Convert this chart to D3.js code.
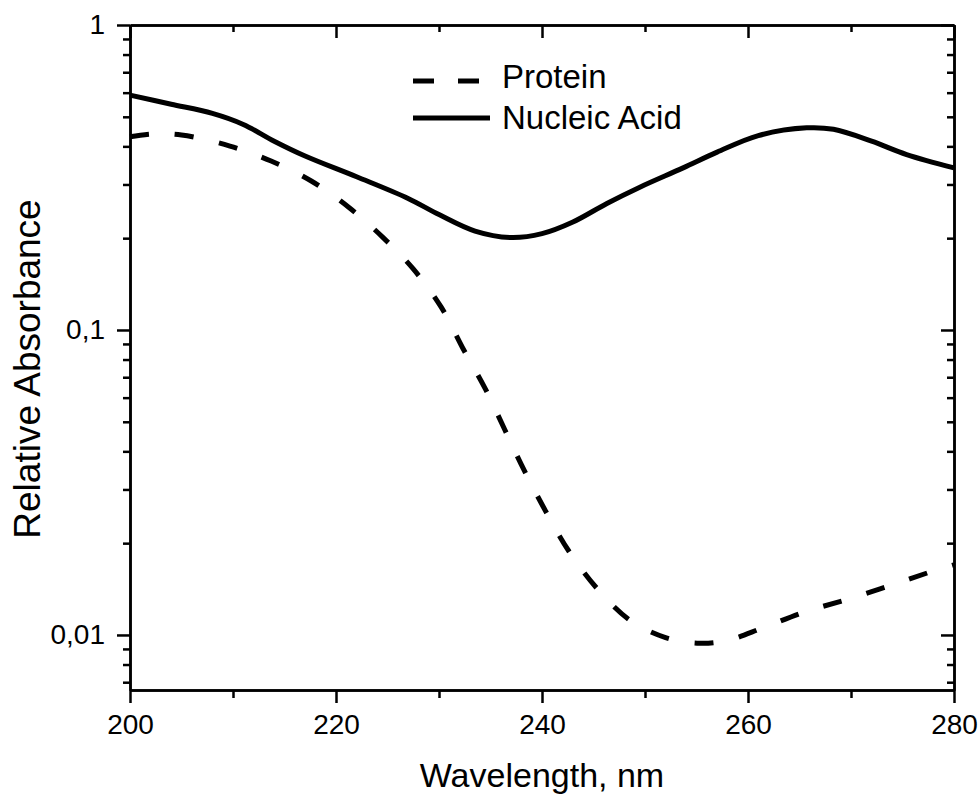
<!DOCTYPE html>
<html>
<head>
<meta charset="utf-8">
<script src="https://cdn.jsdelivr.net/npm/d3@7"></script>
<style>
  body { margin: 0; background: #fff; }
  text { font-family: "Liberation Sans", Arial, sans-serif; fill: #000; }
</style>
</head>
<body>
<svg id="chart" width="978" height="795"></svg>
<script>
// Data
const proteinWl  = [200, 202, 205, 209.7, 213.7, 217.6, 221.2, 224.5, 227.5, 230.2, 232.3, 234.5, 236.4, 238.3, 240.4, 242.6, 245.3, 248.5, 252, 255.3, 258, 261.4, 265.5, 269.7, 274, 278.3, 280];
const proteinAbs = [0.430, 0.439, 0.436, 0.401, 0.358, 0.308, 0.253, 0.202, 0.1585, 0.119, 0.0873, 0.0641, 0.047, 0.0345, 0.0253, 0.01885, 0.01426, 0.0112, 0.0098, 0.0094, 0.0096, 0.01054, 0.0119, 0.0131, 0.01459, 0.01634, 0.01698];

const nucleicWl  = [200, 204, 208, 211, 214, 217, 222, 227, 230, 233.5, 237, 240, 243, 246.3, 249.5, 253.7, 257, 261, 265.7, 268.3, 272, 275.4, 280];
const nucleicAbs = [0.589, 0.550, 0.513, 0.472, 0.416, 0.372, 0.318, 0.270, 0.239, 0.211, 0.201, 0.207, 0.226, 0.260, 0.294, 0.340, 0.383, 0.434, 0.460, 0.455, 0.416, 0.376, 0.340];

const seriesNames = ['Protein', 'Nucleic Acid'];
const xMajorTicks = [200, 220, 240, 260, 280];
const xMinorTicks = [210, 230, 250, 270];
const yMajorTicks = [1, 0.1, 0.01];
const yMajorLabels = ['1', '0,1', '0,01'];

const margin = { top: 25, right: 24, bottom: 105, left: 130 };
const width = 978 - margin.left - margin.right;
const height = 795 - margin.top - margin.bottom;

const svg = d3.select('#chart');
const g = svg.append('g').attr('transform', 'translate(' + margin.left + ',' + margin.top + ')');

const x = d3.scaleLinear().domain([200, 280]).range([0, width]);
const y = d3.scaleLog().domain([0.0066, 1]).range([height, 0]);

const yMinorTicks = y.ticks().filter(d => !yMajorTicks.some(m => Math.abs(m - d) < 1e-9));

function styleAxis(sel) {
    sel.selectAll('path').attr('stroke', '#000').attr('stroke-width', 2.5);
    sel.selectAll('line').attr('stroke', '#000').attr('stroke-width', 2.5);
    sel.selectAll('text').style('font-size', '28px').attr('fill', '#000');
}

// bottom / left, ticks outward
g.append('g')
    .attr('transform', 'translate(0,' + height + ')')
    .call(d3.axisBottom(x).tickValues(xMinorTicks).tickSize(8).tickSizeOuter(0).tickFormat(''))
    .call(styleAxis);
g.append('g')
    .attr('transform', 'translate(0,' + height + ')')
    .call(d3.axisBottom(x).tickValues(xMajorTicks).tickSize(13).tickSizeOuter(0).tickPadding(11).tickFormat(d3.format('d')))
    .call(styleAxis);

g.append('g')
    .call(d3.axisLeft(y).tickValues(yMinorTicks).tickSize(7).tickSizeOuter(0).tickFormat(''))
    .call(styleAxis);
g.append('g')
    .call(d3.axisLeft(y).tickValues(yMajorTicks).tickSize(13).tickSizeOuter(0).tickPadding(12)
        .tickFormat((d, i) => yMajorLabels[i]))
    .call(styleAxis);

// top / right mirror, ticks inward
g.append('g')
    .call(d3.axisTop(x).tickValues(xMinorTicks).tickSize(-7).tickSizeOuter(0).tickFormat(''))
    .call(styleAxis);
g.append('g')
    .call(d3.axisTop(x).tickValues(xMajorTicks).tickSize(-13).tickSizeOuter(0).tickFormat(''))
    .call(styleAxis);
g.append('g')
    .attr('transform', 'translate(' + width + ',0)')
    .call(d3.axisRight(y).tickValues(yMinorTicks).tickSize(-7).tickSizeOuter(0).tickFormat(''))
    .call(styleAxis);
g.append('g')
    .attr('transform', 'translate(' + width + ',0)')
    .call(d3.axisRight(y).tickValues(yMajorTicks).tickSize(-13).tickSizeOuter(0).tickFormat(''))
    .call(styleAxis);

// curves
const line = d3.line()
    .x(d => x(d[0]))
    .y(d => y(d[1]))
    .curve(d3.curveCatmullRom.alpha(0.5));

g.append('path')
    .datum(d3.zip(nucleicWl, nucleicAbs))
    .attr('d', line)
    .attr('fill', 'none')
    .attr('stroke', '#000')
    .attr('stroke-width', 5);

g.append('path')
    .datum(d3.zip(proteinWl, proteinAbs))
    .attr('d', line)
    .attr('fill', 'none')
    .attr('stroke', '#000')
    .attr('stroke-width', 5)
    .attr('stroke-dasharray', '19,26');

// legend
const legend = svg.append('g').attr('transform', 'translate(413,0)');
const rows = [81, 118];
const textRows = [88, 129];
seriesNames.forEach((name, i) => {
    legend.append('line')
        .attr('x1', 0).attr('x2', 77)
        .attr('y1', rows[i]).attr('y2', rows[i])
        .attr('stroke', '#000')
        .attr('stroke-width', 5)
        .attr('stroke-dasharray', i === 0 ? '21,24' : null);
    legend.append('text')
        .attr('x', 89)
        .attr('y', textRows[i])
        .style('font-size', '33px')
        .text(name);
});

// axis titles
svg.append('text')
    .attr('x', margin.left + width / 2)
    .attr('y', 787)
    .attr('text-anchor', 'middle')
    .style('font-size', '34px')
    .text('Wavelength, nm');

svg.append('text')
    .attr('transform', 'translate(40,369) rotate(-90)')
    .attr('text-anchor', 'middle')
    .style('font-size', '37px')
    .text('Relative Absorbance');
</script>
</body>
</html>
